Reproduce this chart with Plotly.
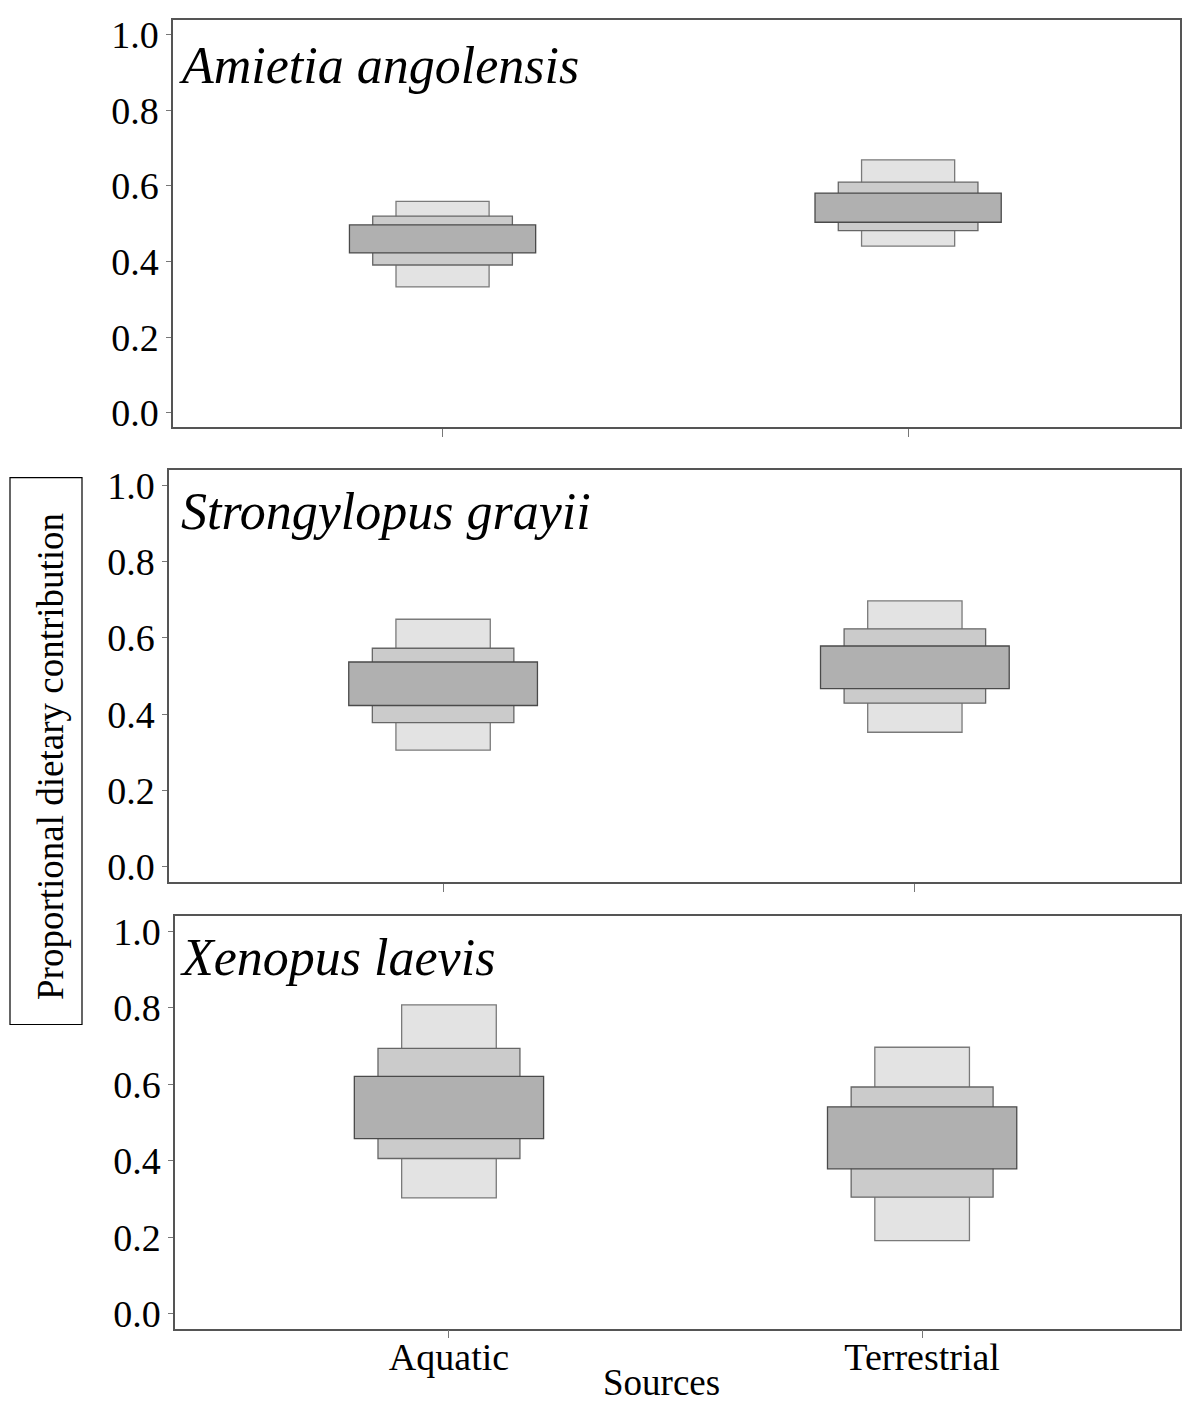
import plotly.graph_objects as go

# ---- data ----
categories = ["Aquatic", "Terrestrial"]
species = ["Amietia angolensis", "Strongylopus grayii", "Xenopus laevis"]

# credible intervals per species: [Aquatic, Terrestrial]
ci95_low = [[0.333, 0.441], [0.306, 0.353], [0.303, 0.191]]
ci95_high = [[0.559, 0.669], [0.649, 0.697], [0.808, 0.697]]
ci75_low = [[0.391, 0.482], [0.378, 0.429], [0.406, 0.305]]
ci75_high = [[0.520, 0.610], [0.573, 0.624], [0.694, 0.593]]
ci50_low = [[0.423, 0.504], [0.423, 0.467], [0.458, 0.379]]
ci50_high = [[0.497, 0.581], [0.537, 0.579], [0.621, 0.541]]

y_ticks = [0.0, 0.2, 0.4, 0.6, 0.8, 1.0]
y_ticklabels = ["0.0", "0.2", "0.4", "0.6", "0.8", "1.0"]

W, H = 1183, 1405
FONT = "Liberation Serif, Times New Roman, serif"

# panel layout in pixels (frame left, right, top, bottom)
panels = [
    dict(l=173, r=1180, t=14, b=425, xr=[-0.579, 1.584], yr=[-0.0375, 1.039], lab_x=0.004, lab_y=0.888),
    dict(l=169, r=1180, t=468, b=884, xr=[-0.581, 1.562], yr=[-0.039, 1.041], lab_x=0.010, lab_y=0.898),
    dict(l=175, r=1180, t=919, b=1335, xr=[-0.579, 1.545], yr=[-0.039, 1.039], lab_x=0.003, lab_y=0.900),
]

levels = [
    (ci95_low, ci95_high, 0.2, "#e3e3e3", "#7a7a7a"),
    (ci75_low, ci75_high, 0.3, "#cbcbcb", "#666666"),
    (ci50_low, ci50_high, 0.4, "#b0b0b0", "#4a4a4a"),
]

fig = go.Figure()
for i, sp in enumerate(species):
    xa = "x" if i == 0 else f"x{i+1}"
    ya = "y" if i == 0 else f"y{i+1}"
    for lo, hi, wd, fill, edge in levels:
        lows = lo[i]
        highs = hi[i]
        fig.add_trace(go.Bar(
            x=categories,
            y=[h - l for l, h in zip(lows, highs)],
            base=lows,
            width=wd,
            marker=dict(color=fill, line=dict(color=edge, width=1.3)),
            xaxis=xa, yaxis=ya,
            showlegend=False,
            hoverinfo="skip",
        ))

layout = dict(
    width=W, height=H,
    margin=dict(l=0, r=0, t=0, b=0),
    paper_bgcolor="white", plot_bgcolor="white",
    barmode="overlay",
    font=dict(family=FONT, color="black"),
    showlegend=False,
)

annotations = []
for i, p in enumerate(panels):
    sx = "" if i == 0 else str(i + 1)
    layout[f"xaxis{sx}"] = dict(
        domain=[p["l"] / W, p["r"] / W],
        anchor=f"y{sx}",
        type="category",
        range=p["xr"],
        showline=True, mirror=True, linecolor="#555555", linewidth=1.5,
        showgrid=False, zeroline=False,
        ticks="outside", ticklen=8, tickcolor="#777777", tickwidth=1,
        showticklabels=(i == 2),
        ticklabelstandoff=-14,
        tickfont=dict(family=FONT, size=38, color="black"),
    )
    layout[f"yaxis{sx}"] = dict(
        domain=[1 - p["b"] / H, 1 - p["t"] / H],
        anchor=f"x{sx}",
        range=p["yr"],
        tickvals=y_ticks, ticktext=y_ticklabels,
        showline=True, mirror=True, linecolor="#555555", linewidth=1.5,
        showgrid=False, zeroline=False,
        ticks="outside", ticklen=5, tickcolor="#777777", tickwidth=1,
        tickfont=dict(family=FONT, size=38, color="black"),
    )
    annotations.append(dict(
        text=f"<i>{species[i]}</i>",
        xref=f"x{sx} domain", yref=f"y{sx} domain",
        x=p["lab_x"], y=p["lab_y"], xanchor="left", yanchor="middle",
        showarrow=False,
        font=dict(family=FONT, size=52, color="black"),
    ))

annotations.append(dict(
    text="Sources", xref="paper", yref="paper",
    x=661 / W, y=-7 / H, xanchor="center", yanchor="bottom",
    showarrow=False, font=dict(family=FONT, size=37, color="black"),
))
annotations.append(dict(
    text="Proportional dietary contribution", xref="paper", yref="paper",
    x=51 / W, y=1 - 758 / H, xanchor="center", yanchor="middle",
    textangle=-90, showarrow=False, font=dict(family=FONT, size=37, color="black"),
))
layout["annotations"] = annotations
layout["shapes"] = [dict(
    type="rect", xref="paper", yref="paper",
    x0=10 / W, x1=82 / W, y0=1 - 1028 / H, y1=1 - 476 / H,
    line=dict(color="black", width=1.2), fillcolor="rgba(0,0,0,0)",
)]

fig.update_layout(**layout)
fig.write_html(
    "out.html",
    config={"displayModeBar": False},
    post_script="document.body.style.margin='0px';document.body.style.overflow='hidden';",
)
